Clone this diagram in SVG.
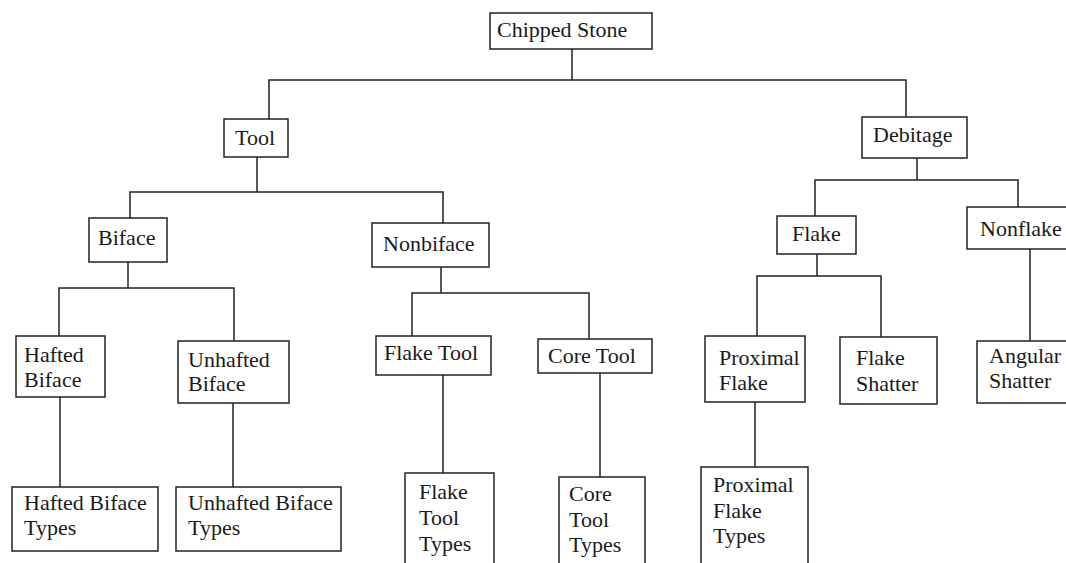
<svg xmlns="http://www.w3.org/2000/svg" width="1066" height="563" viewBox="0 0 1066 563">
<style>
.box{fill:#fff;stroke:#222;stroke-width:1.5}
.lbl{font-family:"Liberation Serif","Times New Roman",serif;font-size:22px;fill:#1a1a1a}
.con{fill:none;stroke:#222;stroke-width:1.5}
</style>
<rect width="1066" height="563" fill="#fff"/>
<g id="connectors" class="con">
<path d="M572,49V80M269,119V80H906V117"/>
<path d="M257,157V192M130,218V192H443V223"/>
<path d="M128,262V288M59,336V288H234V341"/>
<path d="M60,397V487M233,403V487"/>
<path d="M441,267V293M412,336V293H589V339"/>
<path d="M443,375V473M600,373V477"/>
<path d="M917,158V180M815,216V180H1018V207"/>
<path d="M817,254V276M757,336V276H881V337"/>
<path d="M755,402V467M1030,249V341"/>
</g>
<g id="chipped-stone"><rect class="box" x="490" y="13" width="162" height="36"/><text class="lbl" x="497" y="37">Chipped Stone</text></g>
<g id="tool"><rect class="box" x="224" y="119" width="64" height="38"/><text class="lbl" x="235" y="145">Tool</text></g>
<g id="debitage"><rect class="box" x="862" y="117" width="105" height="41"/><text class="lbl" x="873" y="142">Debitage</text></g>
<g id="biface"><rect class="box" x="89" y="218" width="78" height="44"/><text class="lbl" x="98" y="245">Biface</text></g>
<g id="nonbiface"><rect class="box" x="372" y="223" width="117" height="44"/><text class="lbl" x="383" y="251">Nonbiface</text></g>
<g id="flake"><rect class="box" x="777" y="216" width="79" height="38"/><text class="lbl" x="792" y="241">Flake</text></g>
<g id="nonflake"><rect class="box" x="967" y="207" width="110" height="42"/><text class="lbl" x="980" y="236">Nonflake</text></g>
<g id="hafted-biface"><rect class="box" x="16" y="336" width="89" height="61"/><text class="lbl" x="24" y="362">Hafted</text><text class="lbl" x="24" y="387">Biface</text></g>
<g id="unhafted-biface"><rect class="box" x="178" y="341" width="111" height="62"/><text class="lbl" x="188" y="367">Unhafted</text><text class="lbl" x="188" y="391">Biface</text></g>
<g id="flake-tool"><rect class="box" x="376" y="336" width="115" height="39"/><text class="lbl" x="384" y="360">Flake Tool</text></g>
<g id="core-tool"><rect class="box" x="538" y="339" width="114" height="34"/><text class="lbl" x="548" y="363">Core Tool</text></g>
<g id="proximal-flake"><rect class="box" x="705" y="336" width="100" height="66"/><text class="lbl" x="719" y="365">Proximal</text><text class="lbl" x="719" y="390">Flake</text></g>
<g id="flake-shatter"><rect class="box" x="840" y="337" width="97" height="67"/><text class="lbl" x="856" y="365">Flake</text><text class="lbl" x="856" y="391">Shatter</text></g>
<g id="angular-shatter"><rect class="box" x="977" y="341" width="100" height="62"/><text class="lbl" x="989" y="363">Angular</text><text class="lbl" x="989" y="388">Shatter</text></g>
<g id="hafted-biface-types"><rect class="box" x="12" y="487" width="146" height="64"/><text class="lbl" x="24" y="510">Hafted Biface</text><text class="lbl" x="24" y="535">Types</text></g>
<g id="unhafted-biface-types"><rect class="box" x="176" y="487" width="165" height="64"/><text class="lbl" x="188" y="510">Unhafted Biface</text><text class="lbl" x="188" y="535">Types</text></g>
<g id="flake-tool-types"><rect class="box" x="405" y="473" width="89" height="100"/><text class="lbl" x="419" y="499">Flake</text><text class="lbl" x="419" y="525">Tool</text><text class="lbl" x="419" y="551">Types</text></g>
<g id="core-tool-types"><rect class="box" x="559" y="477" width="86" height="100"/><text class="lbl" x="569" y="501">Core</text><text class="lbl" x="569" y="527">Tool</text><text class="lbl" x="569" y="552">Types</text></g>
<g id="proximal-flake-types"><rect class="box" x="701" y="467" width="107" height="110"/><text class="lbl" x="713" y="492">Proximal</text><text class="lbl" x="713" y="518">Flake</text><text class="lbl" x="713" y="543">Types</text></g>
</svg>
